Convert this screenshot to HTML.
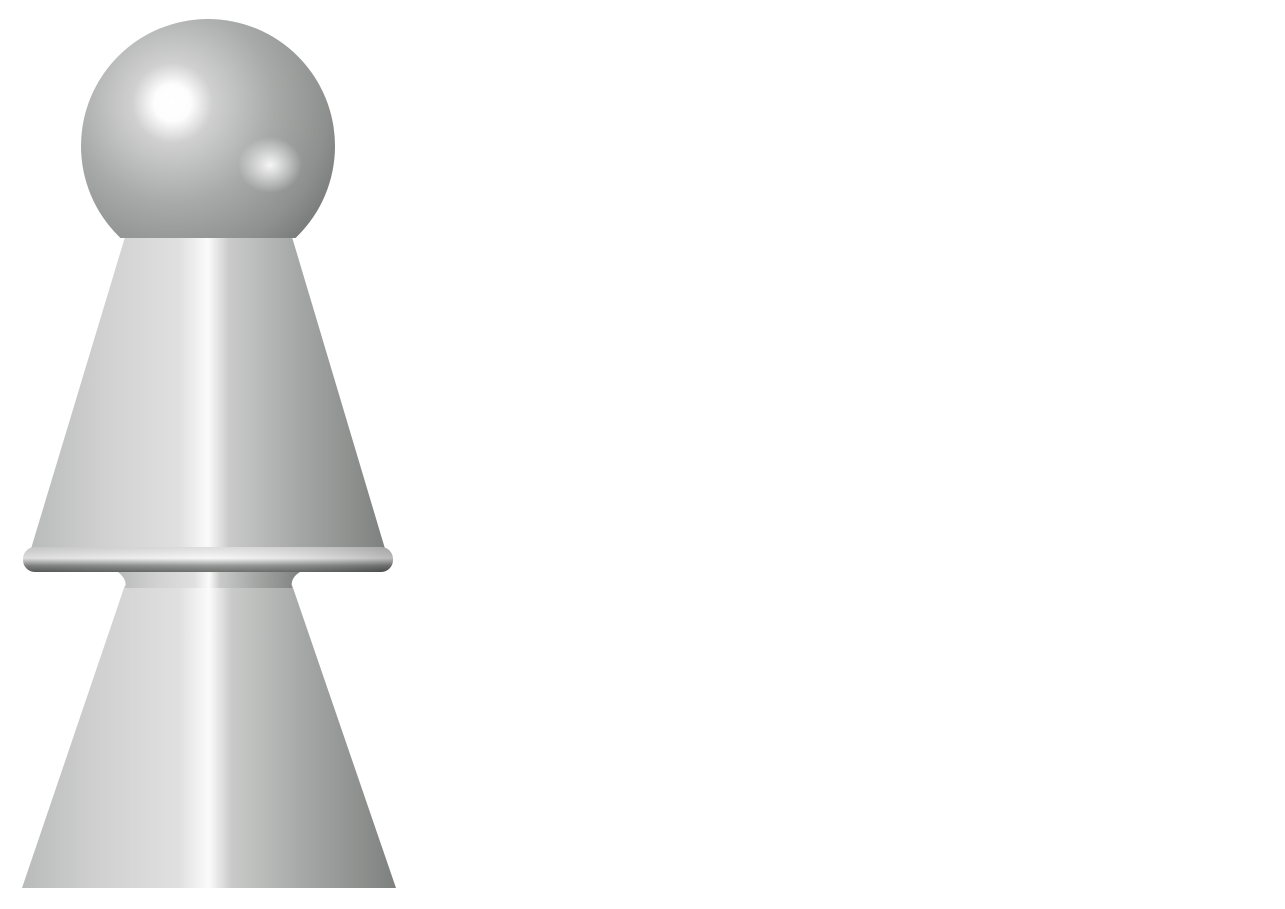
<!DOCTYPE html>
<html><head><meta charset="utf-8"><style>
html,body{margin:0;padding:0;background:#fff;width:1285px;height:909px;overflow:hidden}
</style></head><body>
<svg width="1285" height="909" viewBox="0 0 1285 909" xmlns="http://www.w3.org/2000/svg">
<defs>
<linearGradient id="cone" x1="0" x2="1" y1="0" y2="0">
<stop offset="0" stop-color="#b9bbba"/>
<stop offset="0.2" stop-color="#cfd0cf"/>
<stop offset="0.42" stop-color="#dfe0df"/>
<stop offset="0.5" stop-color="#fbfbfb"/>
<stop offset="0.56" stop-color="#c9cac9"/>
<stop offset="0.75" stop-color="#a6a8a7"/>
<stop offset="0.9" stop-color="#8f9190"/>
<stop offset="1" stop-color="#7e807f"/>
</linearGradient>
<linearGradient id="rim" x1="0" x2="0" y1="0" y2="1">
<stop offset="0" stop-color="#d8d9d8"/>
<stop offset="0.45" stop-color="#f6f6f6"/>
<stop offset="0.75" stop-color="#8a8c8b"/>
<stop offset="1" stop-color="#5e605f"/>
</linearGradient>
<linearGradient id="rimh" x1="0" x2="1" y1="0" y2="0">
<stop offset="0" stop-color="#000" stop-opacity="0.1"/>
<stop offset="0.5" stop-color="#fff" stop-opacity="0.1"/>
<stop offset="1" stop-color="#000" stop-opacity="0.25"/>
</linearGradient>
<radialGradient id="ball" cx="0.36" cy="0.33" r="0.72">
<stop offset="0" stop-color="#ffffff"/>
<stop offset="0.1" stop-color="#fdfdfd"/>
<stop offset="0.22" stop-color="#cfd0cf"/>
<stop offset="0.55" stop-color="#a8aaa9"/>
<stop offset="0.85" stop-color="#8e908f"/>
<stop offset="1" stop-color="#7a7c7b"/>
</radialGradient>
<radialGradient id="ball2" cx="0.5" cy="0.5" r="0.5">
<stop offset="0" stop-color="#fff" stop-opacity="0.9"/>
<stop offset="1" stop-color="#fff" stop-opacity="0"/>
</radialGradient>
</defs>
<path d="M125,585 L292,585 L396,888 L22,888 Z" fill="url(#cone)"/>
<path d="M118,572 Q128,580 125,588 L292,588 Q290,578 300,572 Z" fill="url(#cone)"/>
<path d="M125,237 L292,237 L386,552 L30,552 Z" fill="url(#cone)"/>
<rect x="23" y="547" width="370" height="25" rx="12" fill="url(#rim)"/>
<rect x="23" y="547" width="370" height="25" rx="12" fill="url(#rimh)"/>
<clipPath id="bc"><rect x="0" y="0" width="600" height="238"/></clipPath>
<g clip-path="url(#bc)">
<circle cx="208" cy="146" r="127" fill="url(#ball)"/>
<ellipse cx="270" cy="165" rx="32" ry="28" fill="url(#ball2)"/>
</g>
</svg>
</body></html>
